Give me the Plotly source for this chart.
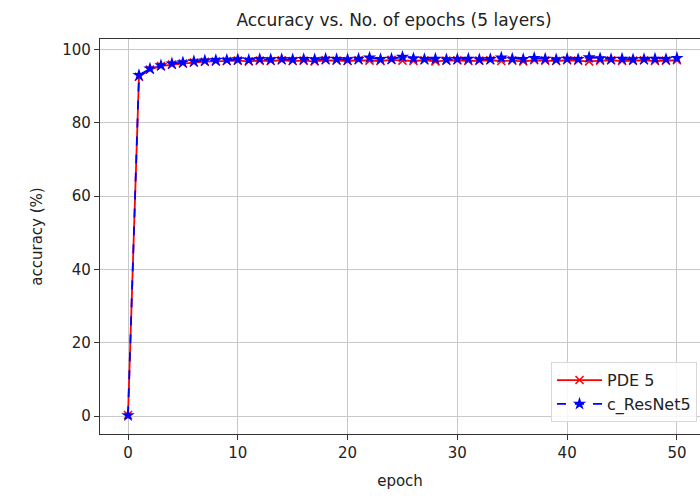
import plotly.graph_objects as go

epochs = list(range(51))
pde5 = [0.3, 92.6, 94.6, 95.5, 95.9, 96.2, 96.5, 96.7, 96.8, 96.9,
        97.0, 96.8, 97.0, 96.9, 97.1, 96.9, 97.0, 96.8, 97.1, 97.0,
        96.9, 97.1, 97.0, 96.9, 97.2, 97.0, 96.9, 97.1, 96.8, 97.0,
        97.1, 96.9, 97.0, 97.1, 96.9, 97.0, 96.8, 97.1, 97.0, 96.9,
        97.1, 97.0, 96.8, 97.0, 97.1, 96.9, 97.0, 97.1, 96.9, 97.0, 97.1]
resnet5 = [0.2, 93.0, 94.8, 95.7, 96.2, 96.5, 96.8, 97.0, 97.1, 97.2,
           97.3, 97.2, 97.4, 97.3, 97.4, 97.3, 97.4, 97.3, 97.5, 97.4,
           97.3, 97.5, 97.8, 97.4, 97.5, 98.0, 97.6, 97.4, 97.5, 97.3,
           97.4, 97.5, 97.3, 97.4, 97.8, 97.5, 97.4, 97.7, 97.5, 97.3,
           97.5, 97.4, 97.9, 97.6, 97.4, 97.5, 97.3, 97.4, 97.5, 97.4, 97.7]

xticks = [0, 10, 20, 30, 40, 50]
yticks = [0, 20, 40, 60, 80, 100]

fig = go.Figure()
fig.add_trace(go.Scatter(
    x=epochs, y=pde5, name="PDE 5", mode="lines+markers",
    line=dict(color="red", width=1.8),
    marker=dict(symbol="x-thin", size=8, line=dict(color="red", width=1.5)),
))
fig.add_trace(go.Scatter(
    x=epochs, y=resnet5, name="c_ResNet5", mode="lines+markers",
    line=dict(color="blue", width=1.8, dash="dash"),
    marker=dict(symbol="star", size=10, color="blue"),
))

font = "DejaVu Sans, sans-serif"
fig.update_layout(
    width=700, height=496,
    margin=dict(l=100, r=0, t=39, b=62),
    paper_bgcolor="white", plot_bgcolor="white",
    font=dict(family=font, size=15, color="#222"),
    title=dict(text="Accuracy vs. No. of epochs (5 layers)", x=394/700, xanchor="center",
               y=1 - 20/496, yanchor="middle", font=dict(size=17, color="#222")),
    showlegend=True,
    legend=dict(x=0.995, xanchor="right", y=0.03, yanchor="bottom",
                bgcolor="rgba(255,255,255,0.85)", bordercolor="#d8d8d8", borderwidth=1,
                font=dict(size=16), itemwidth=45, tracegroupgap=6),
)
fig.update_xaxes(
    range=[-2.55, 52.1], tickvals=xticks, ticktext=[str(v) for v in xticks],
    showgrid=True, gridcolor="#c8c8c8", gridwidth=1, zeroline=False,
    showline=True, linecolor="#333", linewidth=1.2, mirror=True,
    ticks="outside", ticklen=5, tickcolor="#333",
    title=dict(text="epoch", font=dict(size=15), standoff=14),
)
fig.update_yaxes(
    range=[-4.9, 102.9], tickvals=yticks, ticktext=[str(v) for v in yticks],
    showgrid=True, gridcolor="#c8c8c8", gridwidth=1, zeroline=False,
    showline=True, linecolor="#333", linewidth=1.2,
    ticks="outside", ticklen=5, tickcolor="#333",
    title=dict(text="accuracy (%)", font=dict(size=15), standoff=16),
)
fig.write_html("out.html")
